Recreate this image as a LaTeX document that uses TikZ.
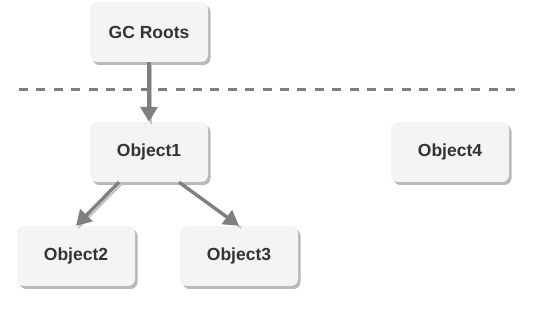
\documentclass[tikz,border=0pt]{standalone}
\usepackage{fontspec}
\setmainfont{Liberation Sans}
\usetikzlibrary{positioning,shadows,arrows.meta}
\definecolor{boxfill}{HTML}{F4F4F4}
\definecolor{boxshade}{HTML}{B9B9B9}
\definecolor{linkgray}{HTML}{7F7F7F}
\definecolor{linklight}{HTML}{C4C4C4}
\definecolor{textgray}{HTML}{333333}

\begin{document}
\begin{tikzpicture}[%
    x=1pt, y=-1pt,
    on grid,
    node distance=120pt and 120pt,
    obj/.style={%
        fill=boxfill,
        rounded corners=7pt,
        minimum width=118pt,
        minimum height=60pt,
        text=textgray,
        font=\fontsize{17.5}{20}\selectfont\bfseries,
        drop shadow={shadow xshift=2.5pt, shadow yshift=-3pt,
            fill=boxshade, opacity=1},
    },
    link/.style={%
        draw=linkgray,
        line width=3.4pt,
        -{Triangle[width=17pt,length=15pt]},
        preaction={draw=linklight, line width=2pt, -,
            transform canvas={shift={(2.2pt,-2.2pt)}}},
    },
    limit/.style={draw=linkgray, line width=3pt, dash pattern=on 9pt off 8.4pt},
]
\useasboundingbox (0,0) rectangle (558,312);
    \node[obj] (roots) at (149,32) {GC Roots};
    \node[obj, below=of roots] (o1) {Object1};
    \node[obj, below left=104pt and 73pt of o1] (o2) {Object2};
    \node[obj, below right=104pt and 90pt of o1] (o3) {Object3};
    \node[obj, right=301pt of o1] (o4) {Object4};

    % reachability border
    \coordinate (lim1) at (19,90);
    \coordinate (lim2) at (515,90);
    \draw[limit] (lim1) -- (lim2);

    \draw[link] (roots) -- (o1);
    \foreach \x/\dx in {2/-30,3/30}{%
        \draw[link] ([xshift=\dx pt]o1.south) -- (o\x.north);
    }
\end{tikzpicture}
\end{document}
